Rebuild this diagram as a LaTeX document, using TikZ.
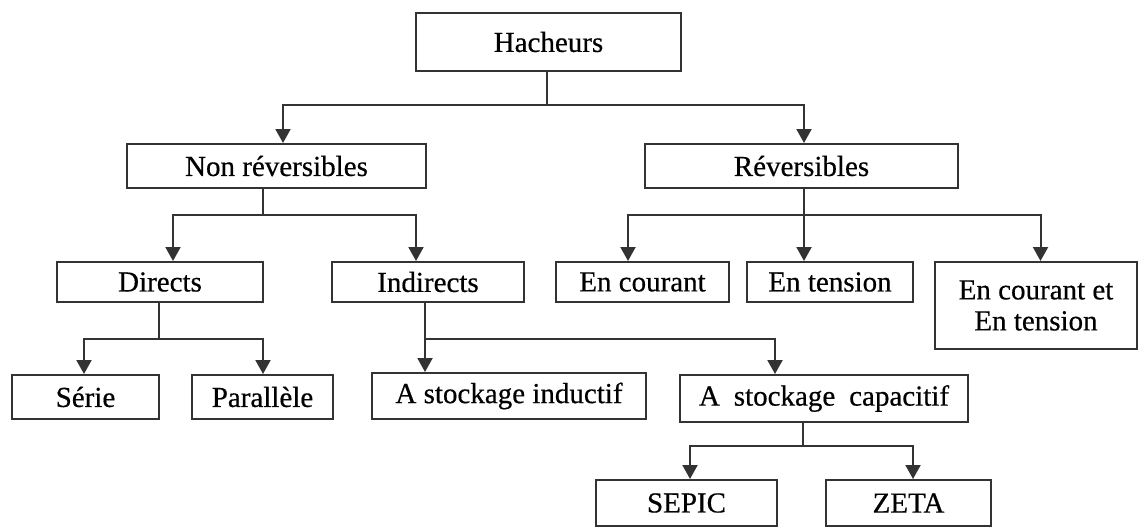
\documentclass[tikz,border=0pt]{standalone}
\usepackage{fontspec}
\setmainfont{Liberation Serif}[BoldFont={Liberation Serif},BoldFeatures={FakeBold=0.5}]
\usetikzlibrary{arrows.meta}
\tikzset{
  box/.style={draw=black!80, line width=2pt, rectangle, inner sep=0pt, align=center,
    font=\fontsize{29}{31}\selectfont\bfseries, text=black},
  conn/.style={draw=black!80, line width=2pt},
  arr/.style={conn, -{Triangle[width=15pt,length=14pt]}}
}
\begin{document}
\begin{tikzpicture}[x=1pt, y=-1pt]
\useasboundingbox (0,0) rectangle (1139,527);
% nodes
\node[box, minimum width=265pt, minimum height=58pt] (hach) at (548.5,42) {Hacheurs};
\node[box, minimum width=299pt, minimum height=44pt] (nrev) at (276.5,166) {Non réversibles};
\node[box, minimum width=313pt, minimum height=44pt] (rev) at (801.5,166) {Réversibles};
\node[box, minimum width=206pt, minimum height=40pt] (dir) at (160,282) {Directs};
\node[box, minimum width=192pt, minimum height=40pt] (ind) at (428,282) {Indirects};
\node[box, minimum width=173pt, minimum height=40pt] (cour) at (642.5,282) {En courant};
\node[box, minimum width=166pt, minimum height=40pt] (tens) at (830,282) {En tension};
\node[box, minimum width=202pt, minimum height=87pt] (both) at (1036,305.5) {En courant et\\En tension};
\node[box, minimum width=147pt, minimum height=44pt] (serie) at (85.5,397) {Série};
\node[box, minimum width=141pt, minimum height=44pt] (para) at (262.5,397) {Parallèle};
\node[box, minimum width=274pt, minimum height=46pt] (induc) at (509,396) {A stockage inductif};
\node[box, minimum width=288pt, minimum height=47pt] (capa) at (824,398.5) {A\hspace{0.48em}stockage\hspace{0.48em}capacitif};
\node[box, minimum width=181pt, minimum height=46pt] (sepic) at (686.5,503) {SEPIC};
\node[box, minimum width=165pt, minimum height=46pt] (zeta) at (908.5,503) {ZETA};
% junctions
\coordinate (jh) at (547,105);
\coordinate (jn) at (263,215);
\coordinate (jr) at (804,215);
\coordinate (jd) at (159,339);
\coordinate (ji) at (425,339);
\coordinate (jc) at (803,446);
% connectors
\draw[conn] (hach.south -| jh) -- (jh);
\draw[arr] (jh) -| ([xshift=6.5pt]nrev.north);
\draw[arr] (jh) -| ([xshift=2.5pt]rev.north);

\draw[conn] (nrev.south -| jn) -- (jn);
\draw[arr] (jn) -| ([xshift=13pt]dir.north);
\draw[arr] (jn) -| ([xshift=-12pt]ind.north);

\draw[arr] (rev.south -| jr) -- ([xshift=-26pt]tens.north);
\draw[arr] (jr) -| ([xshift=-14.5pt]cour.north);
\draw[arr] (jr) -| ([xshift=4.5pt]both.north);

\draw[conn] (dir.south -| jd) -- (jd);
\draw[arr] (jd) -| ([xshift=-1.5pt]serie.north);
\draw[arr] (jd) -| ([xshift=0.5pt]para.north);

\draw[arr] (ind.south -| ji) -- ([xshift=-84pt]induc.north);
\draw[arr] (ji) -| ([xshift=-49pt]capa.north);

\draw[conn] (capa.south -| jc) -- (jc);
\draw[arr] (jc) -| ([xshift=3.5pt]sepic.north);
\draw[arr] (jc) -| ([xshift=4.5pt]zeta.north);
\end{tikzpicture}
\end{document}
